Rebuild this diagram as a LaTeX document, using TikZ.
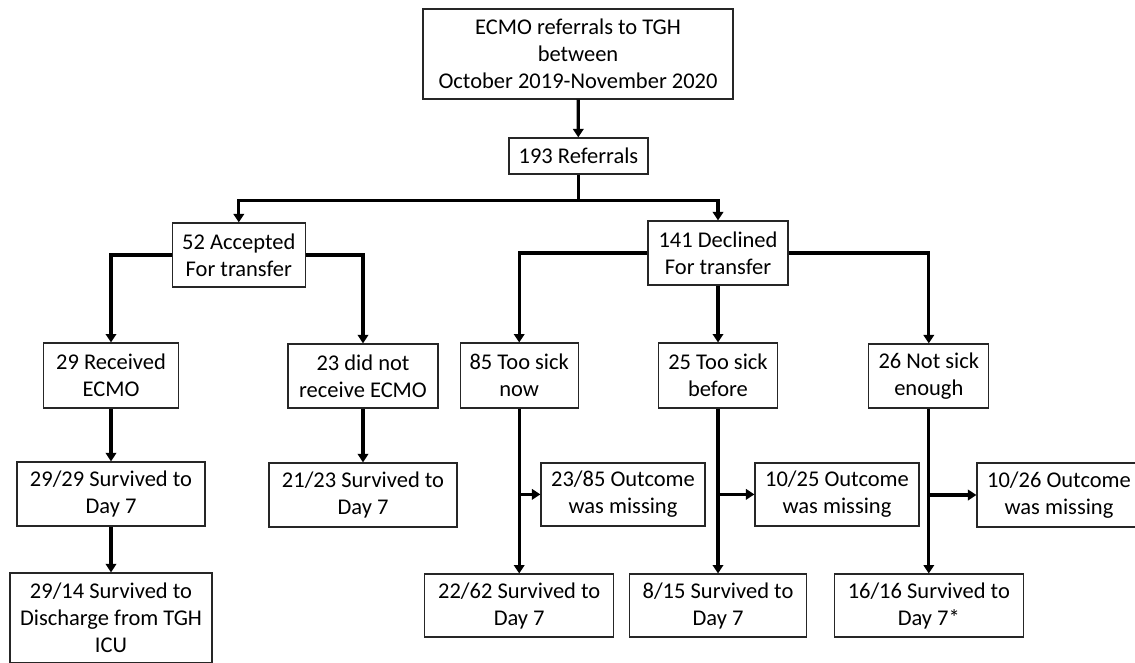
\documentclass[tikz,border=0pt]{standalone}
\usepackage{fontspec}
\setmainfont{Carlito}
\usetikzlibrary{arrows.meta,positioning,calc}

\begin{document}
\begin{tikzpicture}[
  box/.style={draw=black!85,line width=0.9pt,align=center,inner sep=0pt,
    font=\fontsize{16}{19.2}\selectfont},
  link/.style={line width=2.4pt,-{Triangle[length=2.1mm,width=2.6mm]}},
  bar/.style={line width=2.4pt}]
  \useasboundingbox (0,0) rectangle (28.375,-16.575);
  \clip (0,0) rectangle (28.375,-16.575);
  % top: referrals
  \node[box,minimum width=7.75cm,minimum height=2.25cm] (src) at (14.45,-1.35) {ECMO referrals to TGH\\between\\October 2019-November 2020};
  \node[box,minimum width=3.475cm,minimum height=0.9cm] (ref) at (14.46,-3.9) {193 Referrals};
  \node[box,minimum width=3.325cm,minimum height=1.6cm] (acc) at (5.97,-6.375) {52 Accepted\\For transfer};
  \node[box,minimum width=3.5cm,minimum height=1.6cm] (dec) at (17.95,-6.325) {141 Declined\\For transfer};
  % left: accepted
  \node[box,minimum width=3.375cm,minimum height=1.625cm] (rec) at (2.775,-9.39) {29 Received\\ECMO};
  \node[box,minimum width=3.75cm,minimum height=1.6cm] (norec) at (9.075,-9.4) {23 did not\\receive ECMO};
  \node[box,minimum width=4.7cm,minimum height=1.6cm] (day29) at (2.775,-12.35) {29/29 Survived to\\Day 7};
  \node[box,minimum width=4.7cm,minimum height=1.6cm] (day21) at (9.075,-12.375) {21/23 Survived to\\Day 7};
  \node[box,minimum width=5.05cm,minimum height=2.25cm] (disch) at (2.775,-15.45) {29/14 Survived to\\Discharge from TGH\\ICU};
  % right: declined
  \node[box,minimum width=2.95cm,minimum height=1.625cm] (now) at (12.98,-9.39) {85 Too sick\\now};
  \node[box,minimum width=2.975cm,minimum height=1.625cm] (before) at (17.95,-9.39) {25 Too sick\\before};
  \node[box,minimum width=3.0cm,minimum height=1.6cm] (notsick) at (23.22,-9.4) {26 Not sick\\enough};
  \node[box,minimum width=4.1cm,minimum height=1.575cm] (miss85) at (15.575,-12.36) {23/85 Outcome\\was missing};
  \node[box,minimum width=4.1cm,minimum height=1.575cm] (miss25) at (20.925,-12.36) {10/25 Outcome\\was missing};
  \node[box,minimum width=4.1cm,minimum height=1.6cm] (miss26) at (26.475,-12.375) {10/26 Outcome\\was missing};
  \node[box,minimum width=4.725cm,minimum height=1.575cm] (day62) at (12.98,-15.14) {22/62 Survived to\\Day 7};
  \node[box,minimum width=4.425cm,minimum height=1.575cm] (day15) at (17.95,-15.14) {8/15 Survived to\\Day 7};
  \node[box,minimum width=4.725cm,minimum height=1.575cm] (day16) at (23.22,-15.14) {16/16 Survived to\\Day 7*};
  % connectors
  \draw[link] (src) -- (ref);
  \coordinate (split) at ($(ref.south)+(0,-0.65)$);
  \draw[bar] (ref.south) -- (split);
  \draw[link] (split) -| (acc.north);
  \draw[link] (split) -| (dec.north);
  \draw[link] (acc.west) -| (rec.north);
  \draw[link] (acc.east) -| (norec.north);
  \draw[link] (rec) -- (day29);
  \draw[link] (day29) -- (disch);
  \draw[link] (norec) -- (day21);
  \draw[link] (dec.west) -| (now.north);
  \draw[link] (dec) -- (before);
  \draw[link] (dec.east) -| (notsick.north);
  \foreach \from/\miss/\to in {now/miss85/day62,before/miss25/day15,notsick/miss26/day16}{
    \coordinate (fork-\from) at (\from.south |- \miss.west);
    \draw[link] (\from) -- (\to);
    \draw[link] (fork-\from) -- (\miss.west);
  }
\end{tikzpicture}
\end{document}
